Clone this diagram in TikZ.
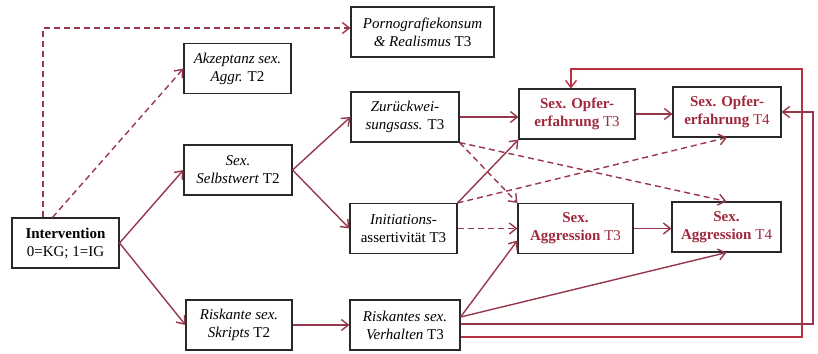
\documentclass[tikz,border=0pt]{standalone}
\usepackage{fontspec}
\setmainfont{Liberation Serif}
\usepackage{xcolor}
\definecolor{PfeilRot}{RGB}{150,55,75}
\definecolor{SchleifeRot}{RGB}{185,50,65}
\definecolor{TextRot}{RGB}{160,40,60}
\definecolor{RahmenGrau}{RGB}{40,40,40}
\usepackage{tikz}
\usetikzlibrary{arrows.meta, positioning}

\begin{document}
\begin{tikzpicture}[
		x=1pt, y=-1pt,
		% Grundstil der Kaesten
		infoBox/.style={
			draw=RahmenGrau,
			rectangle,
			minimum height=50pt,
			align=center,
			font=\fontsize{15}{18}\selectfont,
			inner sep=2pt,
			line width=1.1pt,
			fill=white
		},
		% Kaesten der Zielvariablen
		zielBox/.style={
			infoBox,
			text=TextRot
		},
		pfeil/.style={
			draw=PfeilRot,
			line width=1.4pt,
			-{Straight Barb[length=7pt,width=11pt]}
		},
		pfeilGestrichelt/.style={
			pfeil,
			dash pattern=on 6pt off 4pt
		},
		schleife/.style={
			pfeil,
			draw=SchleifeRot
		}
		]
		
		\useasboundingbox (0,0) rectangle (818,353);
		
		% Intervention
		\node[infoBox, minimum width=107pt] (interv) at (65.5,243) {
			\textbf{Intervention}\\0=KG; 1=IG
		};
		
		% Pornografiekonsum
		\node[infoBox, minimum width=143pt] (porno) at (422.5,32) {
			\textit{Pornografiekonsum}\\\textit{\& Realismus} T3
		};
		
		% Akzeptanz
		\node[infoBox, minimum width=107pt] (akzept) at (237.5,68.5) {
			\textit{Akzeptanz sex.}\\\textit{Aggr.} T2
		};
		
		% Selbstwert
		\node[infoBox, minimum width=108pt] (selbst) at (238,170) {
			\textit{Sex.}\\\textit{Selbstwert} T2
		};
		
		% Skripts
		\node[infoBox, minimum width=106pt] (skript) at (239,325) {
			\textit{Riskante sex.}\\\textit{Skripts} T2
		};
		
		% Zurueckweisungsassertivitaet
		\node[infoBox, minimum width=108pt] (zurueck) at (405,117) {
			\textit{Zurückwei-}\\\textit{sungsass.} T3
		};
		
		% Initiationsassertivitaet
		\node[infoBox, minimum width=107pt] (initi) at (403.5,228.5) {
			\textit{Initiations-}\\assertivität T3
		};
		
		% Riskantes Verhalten
		\node[infoBox, minimum width=110pt] (verhalt) at (405,325) {
			\textit{Riskantes sex.}\\\textit{Verhalten} T3
		};
		
		% Opfererfahrung T3 und T4
		\node[zielBox, minimum width=116pt] (opfer3) at (577,114) {
			\textbf{Sex. Opfer-}\\\textbf{erfahrung} T3
		};
		\node[zielBox, minimum width=108pt] (opfer4) at (727,112) {
			\textbf{Sex. Opfer-}\\\textbf{erfahrung} T4
		};
		
		% Aggression T3 und T4
		\node[zielBox, minimum width=115pt] (aggr3) at (575.5,228.5) {
			\textbf{Sex.}\\\textbf{Aggression} T3
		};
		\node[zielBox, minimum width=109pt] (aggr4) at (726.5,227) {
			\textbf{Sex.}\\\textbf{Aggression} T4
		};
		
		% Eckpunkte der Rueckfuehrungen
		\coordinate (eckeA) at (802,69);
		\coordinate (eckeB) at (813,112);
		
		% Pfeile von der Intervention
		\draw[pfeilGestrichelt] ([xshift=-22.5pt]interv.north) |- ([yshift=4pt]porno.west);
		\draw[pfeilGestrichelt] ([xshift=-13pt]interv.north) -- (akzept.west);
		\draw[pfeil] (interv.east) -- (selbst.west);
		\draw[pfeil] (interv.east) -- (skript.west);
		
		% Pfeile der Mediatoren T2
		\draw[pfeil] (selbst.east) -- (zurueck.west);
		\draw[pfeil] (selbst.east) -- (initi.west);
		\draw[pfeil] (skript.east) -- (verhalt.west);
		
		% Pfeile der Mediatoren T3
		\draw[pfeil] (zurueck.east) -- (zurueck.east -| opfer3.west);
		\draw[pfeilGestrichelt] (zurueck.south east) -- (aggr3.north west);
		\draw[pfeilGestrichelt] (zurueck.south east) -- (aggr4.north);
		\draw[pfeil] (initi.north east) -- (opfer3.south west);
		\draw[pfeilGestrichelt] (initi.north east) -- (opfer4.south);
		\draw[pfeilGestrichelt] (initi.east) -- (aggr3.west);
		\draw[pfeil] ([yshift=8pt]verhalt.east) -- ([yshift=-12pt]aggr3.west);
		\draw[pfeil] ([yshift=8pt]verhalt.east) -- (aggr4.south);
		
		% Stabilitaeten
		\draw[pfeil] (opfer3.east) -- (opfer3.east -| opfer4.west);
		\draw[pfeil] (aggr3.east) -- (aggr3.east -| aggr4.west);
		
		% Rueckfuehrungen
		\draw[schleife] ([yshift=-12pt]verhalt.east) -| (eckeA) -| ([xshift=-6pt]opfer3.north);
		\draw[schleife, draw=PfeilRot] ([yshift=1pt]verhalt.east) -| (eckeB) -- (opfer4.east);
		
	\end{tikzpicture}
\end{document}
